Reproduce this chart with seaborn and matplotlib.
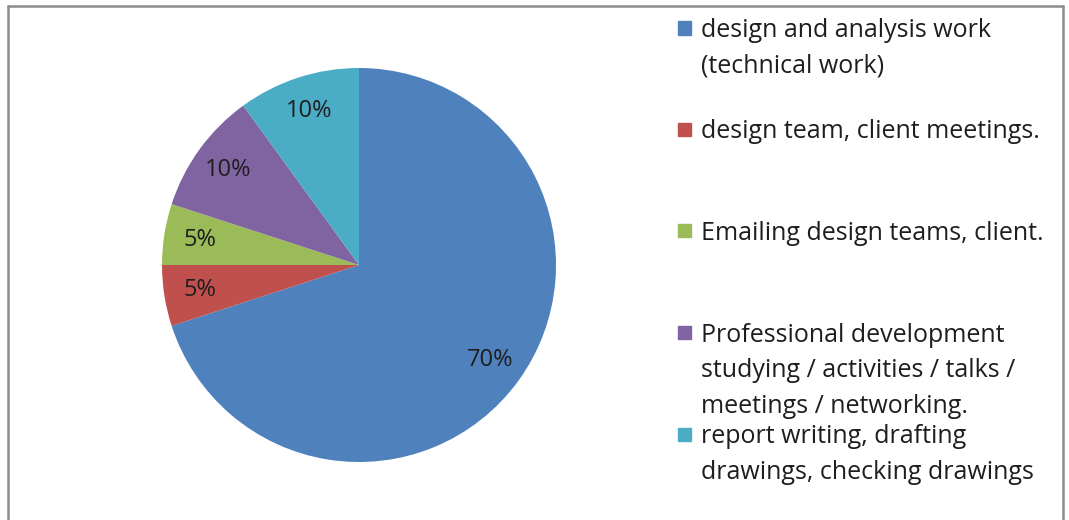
import matplotlib.pyplot as plt
import matplotlib.patches as mpatches
from matplotlib.lines import Line2D
import seaborn as sns

categories = [
    "design and analysis work\n(technical work)",
    "design team, client meetings.",
    "Emailing design teams, client.",
    "Professional development\nstudying / activities / talks /\nmeetings / networking.",
    "report writing, drafting\ndrawings, checking drawings",
]
shares = [70, 5, 5, 10, 10]
colors = ["#4F81BD", "#C0504D", "#9BBB59", "#8064A2", "#4BACC6"]

sns.set_theme(style="white")
plt.rcParams['font.family'] = ['Open Sans', 'DejaVu Sans']

fig = plt.figure(figsize=(10.69, 5.2), dpi=100)
W, H = 1069, 520
cx, cy, r = 359, 265, 197
ax = fig.add_axes([(cx - r) / W, 1 - (cy + r) / H, 2 * r / W, 2 * r / H])
wedges, texts, autotexts = ax.pie(
    shares, colors=colors, startangle=90, counterclock=False,
    autopct=lambda p: f"{p:.0f}%", pctdistance=0.82,
    wedgeprops=dict(linewidth=0), textprops=dict(fontsize=17, color="#1e1e1e"))
ax.set_xlim(-1, 1)
ax.set_ylim(-1, 1)
ax.set_aspect("equal")

# legend drawn by hand: marker at first line, entries evenly spaced
for i, (lab, col) in enumerate(zip(categories, colors)):
    ymid = 28 + i * 101.5
    fig.add_artist(mpatches.Rectangle((678 / W, 1 - (ymid + 6.5) / H), 13 / W, 13 / H,
                                      transform=fig.transFigure, color=col))
    fig.text(701 / W, 1 - (ymid - 10) / H, lab, fontsize=18, color="#1e1e1e",
             va="top", ha="left", linespacing=1.57)

# outer border
for xs, ys in [([8, 1063], [6, 6]), ([8, 8], [6, 520]), ([1063, 1063], [6, 520])]:
    fig.add_artist(Line2D([x / W for x in xs], [1 - y / H for y in ys],
                          color="#8c8c8c", linewidth=1.8))

fig.savefig("out.png", dpi=100)
